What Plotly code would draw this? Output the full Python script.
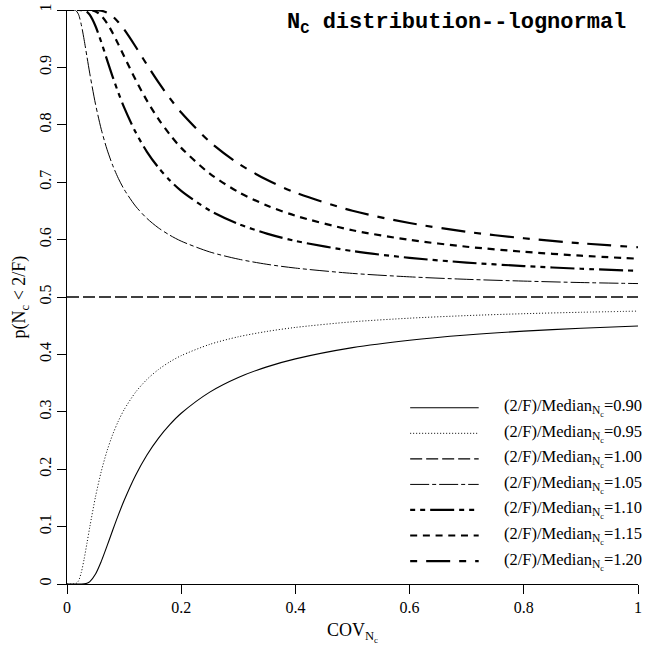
import plotly.graph_objects as go

# COV values (x) and read-off probabilities for each ratio (2/F)/Median
cov = [0, 0.01, 0.015, 0.02, 0.025, 0.03, 0.035, 0.04, 0.05, 0.06, 0.07, 0.08,
       0.09, 0.10, 0.12, 0.14, 0.16, 0.18, 0.20, 0.25, 0.30, 0.35, 0.40, 0.50,
       0.60, 0.70, 0.80, 0.90, 1.00]

p_090 = [0, 0, 0, 0, 0, 0.0002, 0.0013, 0.0042, 0.0175, 0.0394, 0.0659, 0.0936,
         0.1204, 0.1454, 0.1891, 0.2248, 0.2538, 0.2776, 0.2974, 0.3343, 0.3598,
         0.3783, 0.3922, 0.4118, 0.4247, 0.4338, 0.4405, 0.4456, 0.4496]
p_095 = [0, 0, 0.0003, 0.0052, 0.0201, 0.0436, 0.0714, 0.0998, 0.1524, 0.1961,
         0.2316, 0.2604, 0.2840, 0.3036, 0.3340, 0.3564, 0.3735, 0.3870, 0.3978,
         0.4175, 0.4307, 0.4400, 0.4470, 0.4568, 0.4631, 0.4676, 0.4709, 0.4734, 0.4754]
cov_100 = [0, 1.0]
p_100 = [0.5, 0.5]
p_105 = [1, 1.0, 0.9994, 0.9927, 0.9745, 0.9481, 0.9183, 0.8888, 0.8356, 0.7921,
         0.7574, 0.7294, 0.7065, 0.6876, 0.6584, 0.6369, 0.6205, 0.6077, 0.5973,
         0.5785, 0.5660, 0.5570, 0.5504, 0.5411, 0.5351, 0.5308, 0.5277, 0.5252, 0.5234]
p_110 = [1, 1, 1, 1, 0.9999, 0.9993, 0.9968, 0.9914, 0.9718, 0.9441, 0.9136, 0.8836,
         0.8557, 0.8303, 0.7873, 0.7530, 0.7256, 0.7032, 0.6848, 0.6507, 0.6273,
         0.6104, 0.5977, 0.5800, 0.5682, 0.5600, 0.5539, 0.5492, 0.5456]
p_115 = [1, 1, 1, 1, 1, 1, 1, 0.9998, 0.9974, 0.9901, 0.9772, 0.9599, 0.9401, 0.9194,
         0.8788, 0.8421, 0.8103, 0.7831, 0.7598, 0.7149, 0.6830, 0.6595, 0.6416,
         0.6163, 0.5995, 0.5876, 0.5788, 0.5720, 0.5667]
p_120 = [1, 1, 1, 1, 1, 1, 1, 1, 0.9999, 0.9988, 0.9955, 0.9888, 0.9788, 0.9662,
         0.9364, 0.9047, 0.8743, 0.8464, 0.8214, 0.7705, 0.7327, 0.7041, 0.6820,
         0.6502, 0.6289, 0.6136, 0.6023, 0.5936, 0.5867]

ratio_labels = ["0.90", "0.95", "1.00", "1.05", "1.10", "1.15", "1.20"]
x_ticks = [0, 0.2, 0.4, 0.6, 0.8, 1]
y_ticks = [0, 0.1, 0.2, 0.3, 0.4, 0.5, 0.6, 0.7, 0.8, 0.9, 1]

series = [
    (cov, p_090, "solid", 1.1),
    (cov, p_095, "1px,2px", 1.0),
    (cov_100, p_100, "12px,4px", 1.3),
    (cov, p_105, "19px,3px,4px,3px", 1.0),
    (cov, p_110, "5px,5px,5px,5px,24px,5px", 2.2),
    (cov, p_115, "7px,5.7px", 2.2),
    (cov, p_120, "7px,9px,24px,9px", 2.2),
]

SERIF = "Liberation Serif, Times New Roman, serif"

fig = go.Figure()
for (xs, ys, dash, w), lab in zip(series, ratio_labels):
    fig.add_trace(go.Scatter(
        x=xs, y=ys, mode="lines",
        line=dict(color="black", width=w, dash=dash, shape="spline", smoothing=0.8),
        name="(2/F)/Median=" + lab, showlegend=False,
    ))

# custom legend (long key samples like the original)
shapes = []
annotations = []
top = 0.307
step = 0.0445
for i, ((xs, ys, dash, w), lab) in enumerate(zip(series, ratio_labels)):
    yy = top - i * step
    shapes.append(dict(type="line", xref="paper", yref="paper",
                       x0=0.601, x1=0.721, y0=yy, y1=yy,
                       line=dict(color="black", width=w, dash=dash)))
    annotations.append(dict(xref="paper", yref="paper", x=0.761, y=yy,
                            xanchor="left", yanchor="middle", showarrow=False,
                            text="(2/F)/Median<sub>N<sub>c</sub></sub>=" + lab,
                            font=dict(family=SERIF, size=16.5, color="black")))

annotations.append(dict(xref="paper", yref="paper", x=0.983, y=0.975,
                        xanchor="right", yanchor="middle", showarrow=False,
                        text="<b>N<sub>C</sub> distribution--lognormal</b>",
                        font=dict(family="Liberation Mono, Courier New, monospace",
                                  size=22, color="black")))

fig.update_layout(
    width=646, height=647,
    margin=dict(l=67, r=4, t=9, b=63),
    paper_bgcolor="white", plot_bgcolor="white",
    font=dict(family=SERIF, size=16, color="black"),
    shapes=shapes, annotations=annotations,
    showlegend=False,
)
fig.update_xaxes(
    range=[0, 1], tickvals=x_ticks, ticks="outside", ticklen=9, tickwidth=1,
    tickcolor="black", showline=True, linecolor="black", linewidth=1,
    showgrid=False, zeroline=False,
    title=dict(text="COV<sub>N<sub>c</sub></sub>", standoff=8,
               font=dict(family=SERIF, size=18)),
    tickfont=dict(family=SERIF, size=16),
)
fig.update_yaxes(
    range=[0, 1], tickvals=y_ticks, ticks="outside", ticklen=9, tickwidth=1,
    tickcolor="black", showline=True, linecolor="black", linewidth=1,
    showgrid=False, zeroline=False, tickangle=-90,
    title=dict(text="p(N<sub>c</sub> &lt; 2/F)", standoff=6,
               font=dict(family=SERIF, size=18)),
    tickfont=dict(family=SERIF, size=16),
)

fig.write_html("out.html")
